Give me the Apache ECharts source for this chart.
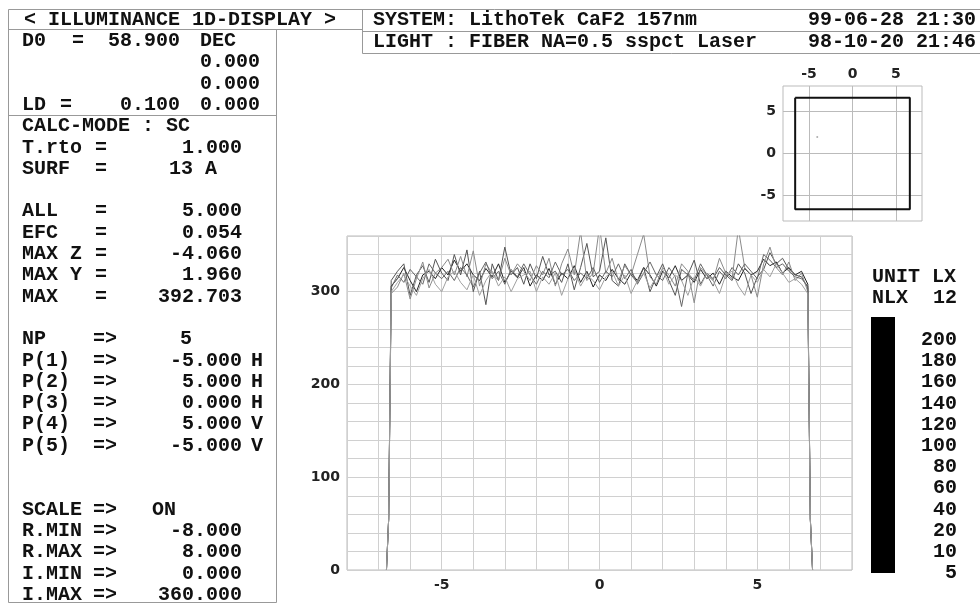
<!DOCTYPE html>
<html><head><meta charset="utf-8">
<script src="https://cdn.jsdelivr.net/npm/echarts@6/dist/echarts.min.js"></script>
<style>html,body{margin:0;padding:0;background:#fff}#c{width:980px;height:603px}</style>
</head><body><div id="c"></div>
<script>
// ---------- DATA ----------
const xs = [-6.6,-6.4,-6.2,-6.0,-5.8,-5.6,-5.4,-5.2,-5.0,-4.8,-4.6,
            -4.4,-4.2,-4.0,-3.8,-3.6,-3.4,-3.2,-3.0,-2.8,-2.6,-2.4,
            -2.2,-2.0,-1.8,-1.6,-1.4,-1.2,-1.0,-0.8,-0.6,-0.4,-0.2,
            0,0.2,0.4,0.6,0.8,1.0,1.2,1.4,1.6,1.8,2.0,
            2.2,2.4,2.6,2.8,3.0,3.2,3.4,3.6,3.8,4.0,4.2,
            4.4,4.6,4.8,5.0,5.2,5.4,5.6,5.8,6.0,6.2,6.4,
            6.6];
const p1 = [306,314,326,312,300,318,322,314,326,318,334,
            322,330,318,312,325,316,330,310,322,315,326,
            306,318,312,325,308,320,314,328,310,322,305,
            318,312,324,314,308,320,312,326,318,306,322,
            315,328,312,318,310,324,314,320,308,322,316,
            312,325,318,322,335,328,332,320,326,318,322,
            308];
const p2 = [312,322,330,296,318,328,310,335,320,312,340,
            318,345,300,322,286,330,312,348,318,326,308,
            330,314,338,318,322,310,330,302,326,352,316,
            322,358,312,306,330,318,310,326,300,316,330,
            312,296,324,318,334,308,320,314,326,318,312,
            330,320,298,316,324,342,330,336,324,318,316,
            304];
const p3 = [298,305,320,292,314,332,304,320,326,335,318,
            338,316,344,306,330,320,312,336,318,330,322,
            312,328,318,336,306,330,346,318,365,312,320,
            370,320,336,312,328,318,340,362,316,308,326,
            318,306,330,322,288,326,318,312,336,320,314,
            368,326,318,294,330,348,326,318,332,312,320,
            300];
const p4 = [304,318,310,324,316,308,330,320,314,322,312,
            326,318,305,320,332,314,322,308,324,316,330,
            318,308,322,315,332,318,324,312,320,314,326,
            310,322,316,330,314,324,308,320,332,318,312,
            326,316,284,320,312,330,318,306,322,314,326,
            318,330,322,314,340,334,326,330,322,316,314,
            306];
const p5 = [300,310,318,306,296,314,324,308,300,316,322,
            310,302,318,296,312,322,306,316,300,314,318,
            322,300,316,308,320,296,314,324,306,318,312,
            302,316,322,306,318,298,312,320,304,316,324,
            308,318,312,296,316,306,320,312,298,318,322,
            306,296,318,310,324,316,330,320,310,314,308,
            298];
const edgeLeftX = [-6.75, -6.68];
const edgeLeftY = [0, 55];
const edgeRightX = [6.68, 6.75];
const edgeRightY = [55, 0];
const xTickLabels = [-5, 0, 5];
const yTickLabels = [0, 100, 200, 300];
const insetTicks = [-5, 0, 5];
const squareX = [-6.6, 6.6, 6.6, -6.6, -6.6];
const squareY = [6.6, 6.6, -6.6, -6.6, 6.6];
const maxPoint = [-4.06, 1.96];
const nlxLabels = ['200','180','160','140','120','100','80','60','40','20','10','5'];
const headerTitle = '< ILLUMINANCE 1D-DISPLAY >';
const systemLine = 'SYSTEM: LithoTek CaF2 157nm';
const systemDate = '99-06-28 21:30';
const lightLine = 'LIGHT : FIBER NA=0.5 sspct Laser';
const lightDate = '98-10-20 21:46';

// ---------- BUILD ----------
function build(vals){
  const d = [];
  edgeLeftX.forEach((x,i)=>d.push([x, edgeLeftY[i]]));
  xs.forEach((x,i)=>d.push([x, vals[i]]));
  edgeRightX.forEach((x,i)=>d.push([x, edgeRightY[i]]));
  return d;
}
const MONO = 'bold 20px "Liberation Mono", "DejaVu Sans Mono", monospace';
const g = [];
function T(text, x, y, align, font){
  g.push({type:'text', x:x, y:y, silent:true,
    style:{text:text, font:font||MONO, fill:'#111', align:align||'left', verticalAlign:'middle'}});
}
function L(x1,y1,x2,y2,c){
  g.push({type:'line', silent:true, shape:{x1:x1,y1:y1,x2:x2,y2:y2}, style:{stroke:c||'#999', lineWidth:1}});
}
// borders
L(8.5,9.5,980,9.5); L(8.5,29.5,362.5,29.5);
L(8.5,9.5,8.5,602.5); L(276.5,29.5,276.5,602.5); L(8.5,602.5,276.5,602.5);
L(362.5,9.5,362.5,53.5); L(362.5,31.5,980,31.5); L(362.5,53.5,980,53.5);
L(8.5,115.5,276.5,115.5);
// header texts
T(headerTitle, 24, 20);
T(systemLine, 373, 20);
T(systemDate, 976, 20, 'right');
T(lightLine, 373, 42);
T(lightDate, 976, 42, 'right');
// left panel rows
const rowY = k => 41 + 21.3*k;
const rows = [
  [0, [['D0',22,'left'],['=',72,'left'],['58.900',180,'right'],['DEC',200,'left']]],
  [1, [['0.000',200,'left']]],
  [2, [['0.000',200,'left']]],
  [3, [['LD',22,'left'],['=',60,'left'],['0.100',180,'right'],['0.000',200,'left']]],
  [4, [['CALC-MODE : SC',22,'left']]],
  [5, [['T.rto',22,'left'],['=',95,'left'],['1.000',242,'right']]],
  [6, [['SURF',22,'left'],['=',95,'left'],['13 A',217,'right']]],
  [8, [['ALL',22,'left'],['=',95,'left'],['5.000',242,'right']]],
  [9, [['EFC',22,'left'],['=',95,'left'],['0.054',242,'right']]],
  [10,[['MAX Z',22,'left'],['=',95,'left'],['-4.060',242,'right']]],
  [11,[['MAX Y',22,'left'],['=',95,'left'],['1.960',242,'right']]],
  [12,[['MAX',22,'left'],['=',95,'left'],['392.703',242,'right']]],
  [14,[['NP',22,'left'],['=>',93,'left'],['5',180,'left']]],
  [15,[['P(1)',22,'left'],['=>',93,'left'],['-5.000',242,'right'],['H',251,'left']]],
  [16,[['P(2)',22,'left'],['=>',93,'left'],['5.000',242,'right'],['H',251,'left']]],
  [17,[['P(3)',22,'left'],['=>',93,'left'],['0.000',242,'right'],['H',251,'left']]],
  [18,[['P(4)',22,'left'],['=>',93,'left'],['5.000',242,'right'],['V',251,'left']]],
  [19,[['P(5)',22,'left'],['=>',93,'left'],['-5.000',242,'right'],['V',251,'left']]],
  [22,[['SCALE',22,'left'],['=>',93,'left'],['ON',152,'left']]],
  [23,[['R.MIN',22,'left'],['=>',93,'left'],['-8.000',242,'right']]],
  [24,[['R.MAX',22,'left'],['=>',93,'left'],['8.000',242,'right']]],
  [25,[['I.MIN',22,'left'],['=>',93,'left'],['0.000',242,'right']]],
  [26,[['I.MAX',22,'left'],['=>',93,'left'],['360.000',242,'right']]]
];
rows.forEach(([k, items]) => items.forEach(([t,x,a]) => T(t, x, rowY(k), a)));
// colour bar legend
T('UNIT LX', 872, 277);
T('NLX', 872, 298);
T('12', 957, 298, 'right');
g.push({type:'rect', silent:true, shape:{x:871, y:317, width:24, height:256}, style:{fill:'#000'}});
nlxLabels.forEach((t,i) => T(t, 957, 340 + 21.2*i, 'right'));

const lblStyle = {color:'#222', fontFamily:'DejaVu Sans', fontWeight:'bold', fontSize:14};
const colors = ['#222','#555','#8a8a8a','#666','#a0a0a0'];
const series = [p1,p2,p3,p4,p5].map((v,i)=>({
  type:'line', name:'P('+(i+1)+')', xAxisIndex:0, yAxisIndex:0, data:build(v),
  showSymbol:false, symbol:'none', clip:true, animation:false,
  lineStyle:{width:1, color:colors[i]}, z:3+i
}));
series.push({
  type:'line', xAxisIndex:1, yAxisIndex:1, data:squareX.map((x,i)=>[x, squareY[i]]),
  symbol:'none', animation:false, lineStyle:{width:2, color:'#111'}, z:5,
  markLine:{silent:true, symbol:['none','none'], label:{show:false}, animation:false,
    lineStyle:{color:'#bbb', width:1, type:'solid'},
    data: insetTicks.map(v=>({xAxis:v})).concat(insetTicks.map(v=>({yAxis:v})))}
});
series.push({
  type:'scatter', xAxisIndex:1, yAxisIndex:1, data:[maxPoint], symbolSize:2,
  itemStyle:{color:'#999'}, animation:false
});

const chart = echarts.init(document.getElementById('c'), null, {renderer:'canvas'});
chart.setOption({
  animation:false,
  backgroundColor:'#fff',
  grid:[
    {left:347, right:128, top:236, bottom:33, show:true, borderColor:'#bbb', borderWidth:1},
    {left:783, right:58, top:86, bottom:382, show:true, borderColor:'#bbb', borderWidth:1}
  ],
  xAxis:[
    {type:'value', gridIndex:0, min:-8, max:8, interval:1,
     axisLine:{show:false}, axisTick:{show:false},
     splitLine:{show:true, lineStyle:{color:'#d0d0d0', width:1}},
     axisLabel:{...lblStyle, margin:8, formatter:v => xTickLabels.includes(v) ? String(v) : ''}},
    {type:'value', gridIndex:1, position:'top', min:-8, max:8, interval:1,
     axisLine:{show:false}, axisTick:{show:false}, splitLine:{show:false},
     axisLabel:{...lblStyle, margin:5, formatter:v => insetTicks.includes(v) ? String(v) : ''}}
  ],
  yAxis:[
    {type:'value', gridIndex:0, min:0, max:360, interval:20,
     axisLine:{show:false}, axisTick:{show:false},
     splitLine:{show:true, lineStyle:{color:'#d0d0d0', width:1}},
     axisLabel:{...lblStyle, margin:7, formatter:v => yTickLabels.includes(v) ? String(v) : ''}},
    {type:'value', gridIndex:1, min:-8, max:8, interval:1,
     axisLine:{show:false}, axisTick:{show:false}, splitLine:{show:false},
     axisLabel:{...lblStyle, margin:7, formatter:v => insetTicks.includes(v) ? String(v) : ''}}
  ],
  series:series,
  graphic:g
});
</script></body></html>
